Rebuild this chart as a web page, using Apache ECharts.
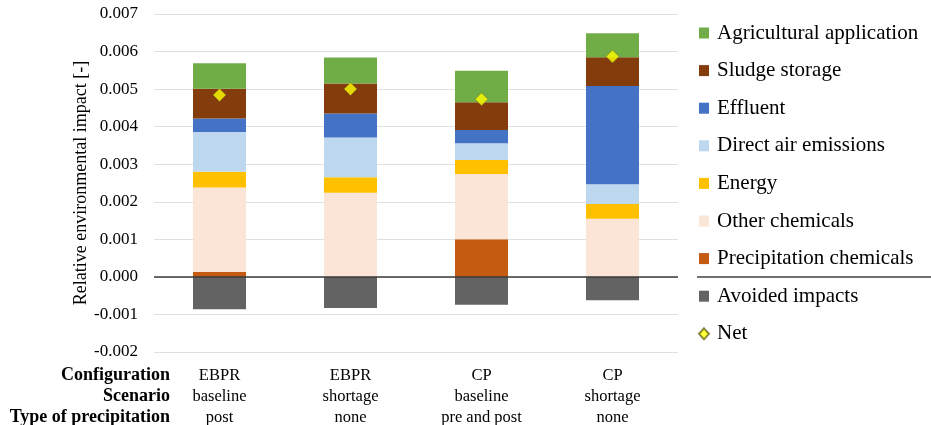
<!DOCTYPE html>
<html><head><meta charset="utf-8">
<script src="https://cdn.jsdelivr.net/npm/echarts@6/dist/echarts.min.js"></script>
<style>html,body{margin:0;padding:0;background:#fff}#c{width:931px;height:425px}</style>
</head><body><div id="c"></div>
<script>
const categories = ['EBPR\nbaseline\npost', 'EBPR\nshortage\nnone', 'CP\nbaseline\npre and post', 'CP\nshortage\nnone'];
const rowHeaders = ['Configuration', 'Scenario', 'Type of precipitation'];
const precipitationChemicals = [0.00013, 0, 0.00100, 0];
const otherChemicals = [0.00225, 0.00224, 0.00174, 0.00155];
const energy = [0.00042, 0.00041, 0.00037, 0.00039];
const directAirEmissions = [0.00106, 0.00106, 0.00045, 0.00053];
const effluent = [0.00036, 0.00064, 0.00035, 0.00261];
const sludgeStorage = [0.00079, 0.00080, 0.00074, 0.00077];
const agriculturalApplication = [0.00068, 0.00069, 0.00084, 0.00064];
const avoidedImpacts = [-0.00086, -0.00083, -0.00074, -0.00062];
const net = [0.00484, 0.00500, 0.00473, 0.00587];
const yTicks = {min: -0.002, max: 0.007, interval: 0.001};

const font = 'Liberation Serif';
const stackSeries = [
  ['Precipitation chemicals', precipitationChemicals, '#c55a11'],
  ['Other chemicals', otherChemicals, '#fbe5d6'],
  ['Energy', energy, '#ffc000'],
  ['Direct air emissions', directAirEmissions, '#bdd7ee'],
  ['Effluent', effluent, '#4472c4'],
  ['Sludge storage', sludgeStorage, '#843c0c'],
  ['Agricultural application', agriculturalApplication, '#70ad47'],
  ['Avoided impacts', avoidedImpacts, '#636363']
];
const series = stackSeries.map(([name, data, color]) => ({
  name, type: 'bar', stack: 'total', data, barWidth: 53,
  itemStyle: {color}, emphasis: {disabled: true}
}));
series.push({
  name: 'Net', type: 'scatter', data: net, symbol: 'diamond', symbolSize: 13,
  itemStyle: {color: '#ffff00', borderColor: '#6b6b20', borderWidth: 0.7}, z: 10,
  markLine: {silent: true, symbol: 'none', label: {show: false},
    lineStyle: {color: '#3a3a3a', width: 1.5, type: 'solid'}, data: [{yAxis: 0}]}
});
const legendOrder = ['Agricultural application','Sludge storage','Effluent','Direct air emissions','Energy','Other chemicals','Precipitation chemicals','Avoided impacts','Net'];

const chart = echarts.init(document.getElementById('c'));
chart.setOption({
  animation: false,
  grid: {left: 154, right: 253, top: 14, bottom: 73, outerBoundsMode: 'none', containLabel: false},
  xAxis: {
    type: 'category', data: categories,
    axisLine: {show: false, onZero: false}, axisTick: {show: false},
    axisLabel: {fontFamily: font, fontSize: 16.5, color: '#000', lineHeight: 21, margin: 13, interval: 0}
  },
  yAxis: {
    type: 'value', min: yTicks.min, max: yTicks.max, interval: yTicks.interval,
    name: 'Relative environmental impact [-]', nameLocation: 'middle', nameGap: 64,
    nameMoveOverlap: false,
    nameTextStyle: {fontFamily: font, fontSize: 18, color: '#000'},
    axisLabel: {fontFamily: font, fontSize: 17, color: '#000', margin: 16,
      formatter: v => v.toFixed(3)},
    splitLine: {lineStyle: {color: '#e0e0e0', width: 1}},
    axisLine: {show: false}, axisTick: {show: false}
  },
  legend: {
    orient: 'vertical', left: 698, top: 22, padding: 0, itemWidth: 10, itemHeight: 11, itemGap: 15.6,
    data: legendOrder.map(n => n === 'Net' ? {name: n, icon: 'diamond'} : {name: n, icon: 'rect'}),
    textStyle: {fontFamily: font, fontSize: 21, color: '#000', lineHeight: 22, padding: [0, 0, 0, 3]},
    selectedMode: false
  },
  graphic: [
    {type: 'line', shape: {x1: 697, y1: 277, x2: 931, y2: 277}, style: {stroke: '#404040', lineWidth: 1.5}},
    ...rowHeaders.map((t, i) => ({
      type: 'text', right: 931 - 170, top: 366 + i * 21,
      style: {text: t, font: 'bold 18px "Liberation Serif"', fill: '#000', textAlign: 'right'}
    }))
  ],
  series
});
</script></body></html>
